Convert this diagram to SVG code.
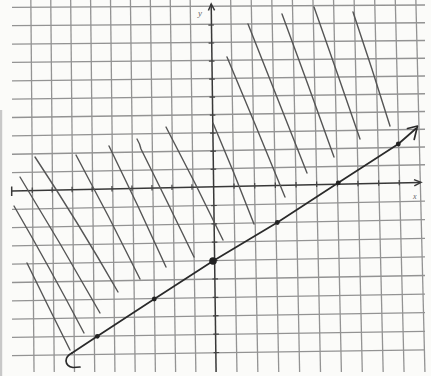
<svg xmlns="http://www.w3.org/2000/svg" width="431" height="376" viewBox="0 0 431 376">
  <defs>
    <style>
      .grid line { stroke: #939393; stroke-width: 1.3; }
      .axis { stroke: #383838; stroke-width: 1.5; fill: none; }
      .tick line { stroke: #444; stroke-width: 1.2; }
      .hatch path { stroke: #555; stroke-width: 1.4; fill: none; stroke-linecap: round; }
      .graph { stroke: #2a2a2a; stroke-width: 1.7; fill: none; stroke-linecap: round; stroke-linejoin: round; }
      .dot { fill: #222; }
      .lbl { font-family: "Liberation Serif", serif; font-style: italic; fill: #666; }
    </style>
  </defs>
  <rect x="0" y="0" width="431" height="376" fill="#fbfbf9"/>
  <rect x="0" y="110" width="2.2" height="266" fill="#c8c8c8"/>

  <g id="grid" class="grid">
    <line x1="30.84" y1="0" x2="34.04" y2="372"/>
    <line x1="50.76" y1="0" x2="54.27" y2="372"/>
    <line x1="70.67" y1="0" x2="74.50" y2="372"/>
    <line x1="90.59" y1="0" x2="94.72" y2="372"/>
    <line x1="110.51" y1="0" x2="114.95" y2="372"/>
    <line x1="130.42" y1="0" x2="135.18" y2="372"/>
    <line x1="150.34" y1="0" x2="155.40" y2="372"/>
    <line x1="170.26" y1="0" x2="175.63" y2="372"/>
    <line x1="190.17" y1="0" x2="195.86" y2="372"/>
    <line x1="230.67" y1="0" x2="236.97" y2="372"/>
    <line x1="251.24" y1="0" x2="257.86" y2="372"/>
    <line x1="271.82" y1="0" x2="278.74" y2="372"/>
    <line x1="292.40" y1="0" x2="299.63" y2="372"/>
    <line x1="312.97" y1="0" x2="320.52" y2="372"/>
    <line x1="333.55" y1="0" x2="341.40" y2="372"/>
    <line x1="354.13" y1="0" x2="362.29" y2="372"/>
    <line x1="374.70" y1="0" x2="383.18" y2="372"/>
    <line x1="395.28" y1="0" x2="404.06" y2="372"/>
    <line x1="415.86" y1="0" x2="424.95" y2="372"/>
    <line x1="12" y1="7.3" x2="425" y2="5.0"/>
    <line x1="12" y1="25.67" x2="425" y2="22.75"/>
    <line x1="12" y1="44.04" x2="425" y2="40.5"/>
    <line x1="12" y1="62.41" x2="425" y2="58.25"/>
    <line x1="12" y1="80.78" x2="425" y2="76.0"/>
    <line x1="12" y1="99.15" x2="425" y2="93.75"/>
    <line x1="12" y1="117.52" x2="425" y2="111.5"/>
    <line x1="12" y1="135.89" x2="425" y2="129.25"/>
    <line x1="12" y1="154.26" x2="425" y2="147.0"/>
    <line x1="12" y1="172.63" x2="425" y2="164.75"/>
    <line x1="12" y1="209.3" x2="425" y2="201.1"/>
    <line x1="12" y1="227.6" x2="425" y2="219.7"/>
    <line x1="12" y1="245.9" x2="425" y2="238.3"/>
    <line x1="12" y1="264.2" x2="425" y2="256.9"/>
    <line x1="12" y1="282.5" x2="425" y2="275.5"/>
    <line x1="12" y1="300.8" x2="425" y2="294.1"/>
    <line x1="12" y1="319.1" x2="425" y2="312.7"/>
    <line x1="12" y1="337.4" x2="425" y2="331.3"/>
    <line x1="12" y1="355.7" x2="425" y2="349.9"/>
  </g>

  <g id="axes">
    <line class="axis" x1="12" y1="191" x2="420" y2="182.4"/>
    <line class="axis" x1="11.7" y1="186.5" x2="11.7" y2="196"/>
    <path class="axis" d="M414,179.6 L421,182.4 L414.3,185.9"/>
    <line class="axis" x1="211.2" y1="4" x2="216.1" y2="372"/>
    <path class="axis" d="M208.4,10.5 L211.2,4 L214.6,10.4"/>
    <g class="tick">
      <line x1="32.2" y1="187.6" x2="32.3" y2="193.0"/>
      <line x1="52.1" y1="187.2" x2="52.2" y2="192.6"/>
      <line x1="72.0" y1="186.8" x2="72.1" y2="192.2"/>
      <line x1="92.0" y1="186.4" x2="92.1" y2="191.8"/>
      <line x1="111.9" y1="186.0" x2="112.0" y2="191.4"/>
      <line x1="131.9" y1="185.5" x2="132.0" y2="190.9"/>
      <line x1="151.9" y1="185.1" x2="152.0" y2="190.5"/>
      <line x1="171.9" y1="184.7" x2="172.0" y2="190.1"/>
      <line x1="191.9" y1="184.3" x2="192.0" y2="189.7"/>
      <line x1="234.0" y1="183.4" x2="234.1" y2="188.8"/>
      <line x1="254.7" y1="183.0" x2="254.8" y2="188.4"/>
      <line x1="275.3" y1="182.5" x2="275.4" y2="187.9"/>
      <line x1="296.0" y1="182.1" x2="296.1" y2="187.5"/>
      <line x1="316.6" y1="181.6" x2="316.7" y2="187.0"/>
      <line x1="337.3" y1="181.2" x2="337.4" y2="186.6"/>
      <line x1="357.9" y1="180.8" x2="358.0" y2="186.2"/>
      <line x1="378.6" y1="180.3" x2="378.7" y2="185.7"/>
      <line x1="399.2" y1="179.9" x2="399.3" y2="185.3"/>
      <line x1="208.4" y1="25.1" x2="214.0" y2="25.0"/>
      <line x1="208.6" y1="43.1" x2="214.2" y2="43.0"/>
      <line x1="208.9" y1="61.2" x2="214.5" y2="61.1"/>
      <line x1="209.2" y1="79.2" x2="214.8" y2="79.1"/>
      <line x1="209.5" y1="97.2" x2="215.1" y2="97.1"/>
      <line x1="209.8" y1="115.2" x2="215.4" y2="115.1"/>
      <line x1="210.1" y1="133.2" x2="215.7" y2="133.1"/>
      <line x1="210.4" y1="151.3" x2="216.0" y2="151.2"/>
      <line x1="210.6" y1="169.3" x2="216.2" y2="169.2"/>
      <line x1="211.2" y1="205.6" x2="216.8" y2="205.5"/>
      <line x1="211.5" y1="223.9" x2="217.1" y2="223.8"/>
      <line x1="211.8" y1="242.2" x2="217.4" y2="242.1"/>
      <line x1="212.1" y1="260.6" x2="217.7" y2="260.5"/>
      <line x1="212.4" y1="279.0" x2="218.0" y2="278.9"/>
      <line x1="212.7" y1="297.4" x2="218.3" y2="297.3"/>
      <line x1="213.0" y1="315.8" x2="218.6" y2="315.7"/>
      <line x1="213.3" y1="334.2" x2="218.9" y2="334.1"/>
      <line x1="213.6" y1="352.6" x2="219.2" y2="352.5"/>
    </g>
  </g>

  <g id="labels">
    <text class="lbl" x="198" y="16" font-size="9">y</text>
    <text class="lbl" x="413" y="199" font-size="8">x</text>
  </g>

  <g id="hatching" class="hatch">
    <path d="M35,157 Q78,222 118,292"/>
    <path d="M20,177 Q61,244 100,313"/>
    <path d="M14,206 Q50,268 84,333"/>
    <path d="M27,263 Q48,306 70,350"/>
    <path d="M76,155 Q109,216 140,279"/>
    <path d="M109,146 Q138,205 166,267"/>
    <path d="M137,139 Q140,144 141,149 Q168,203 194,257"/>
    <path d="M166,127 Q195,182 223,240"/>
    <path d="M213,123 Q234,172 254,224"/>
    <path d="M227,57 Q256,126 285,197"/>
    <path d="M248,24 Q277,97 307,173"/>
    <path d="M282,14 Q308,84 334,157"/>
    <path d="M314,7 Q337,72 360,139"/>
    <path d="M353,12 Q372,68 390,126"/>
  </g>

  <g id="graph-line">
    <polyline class="graph" points="72,353 97.3,336.3 154.3,299 213,261 277.3,222.5 338.3,182.8 398.3,144 416,128.5"/>
    <path class="graph" d="M72,353 Q66,356 66,361 Q66.5,366.5 73,367.5 L80,367"/>
    <path class="graph" d="M407.5,128.5 L417.5,126 L414.2,139.5"/>
  </g>

  <g id="points">
    <circle class="dot" cx="97.3" cy="336.3" r="2.4"/>
    <circle class="dot" cx="154.3" cy="299" r="2.4"/>
    <circle class="dot" cx="213" cy="261" r="3.8"/>
    <circle class="dot" cx="277.3" cy="222.5" r="2.4"/>
    <circle class="dot" cx="338.3" cy="182.8" r="2.4"/>
    <circle class="dot" cx="398.3" cy="144" r="2.4"/>
  </g>
</svg>
